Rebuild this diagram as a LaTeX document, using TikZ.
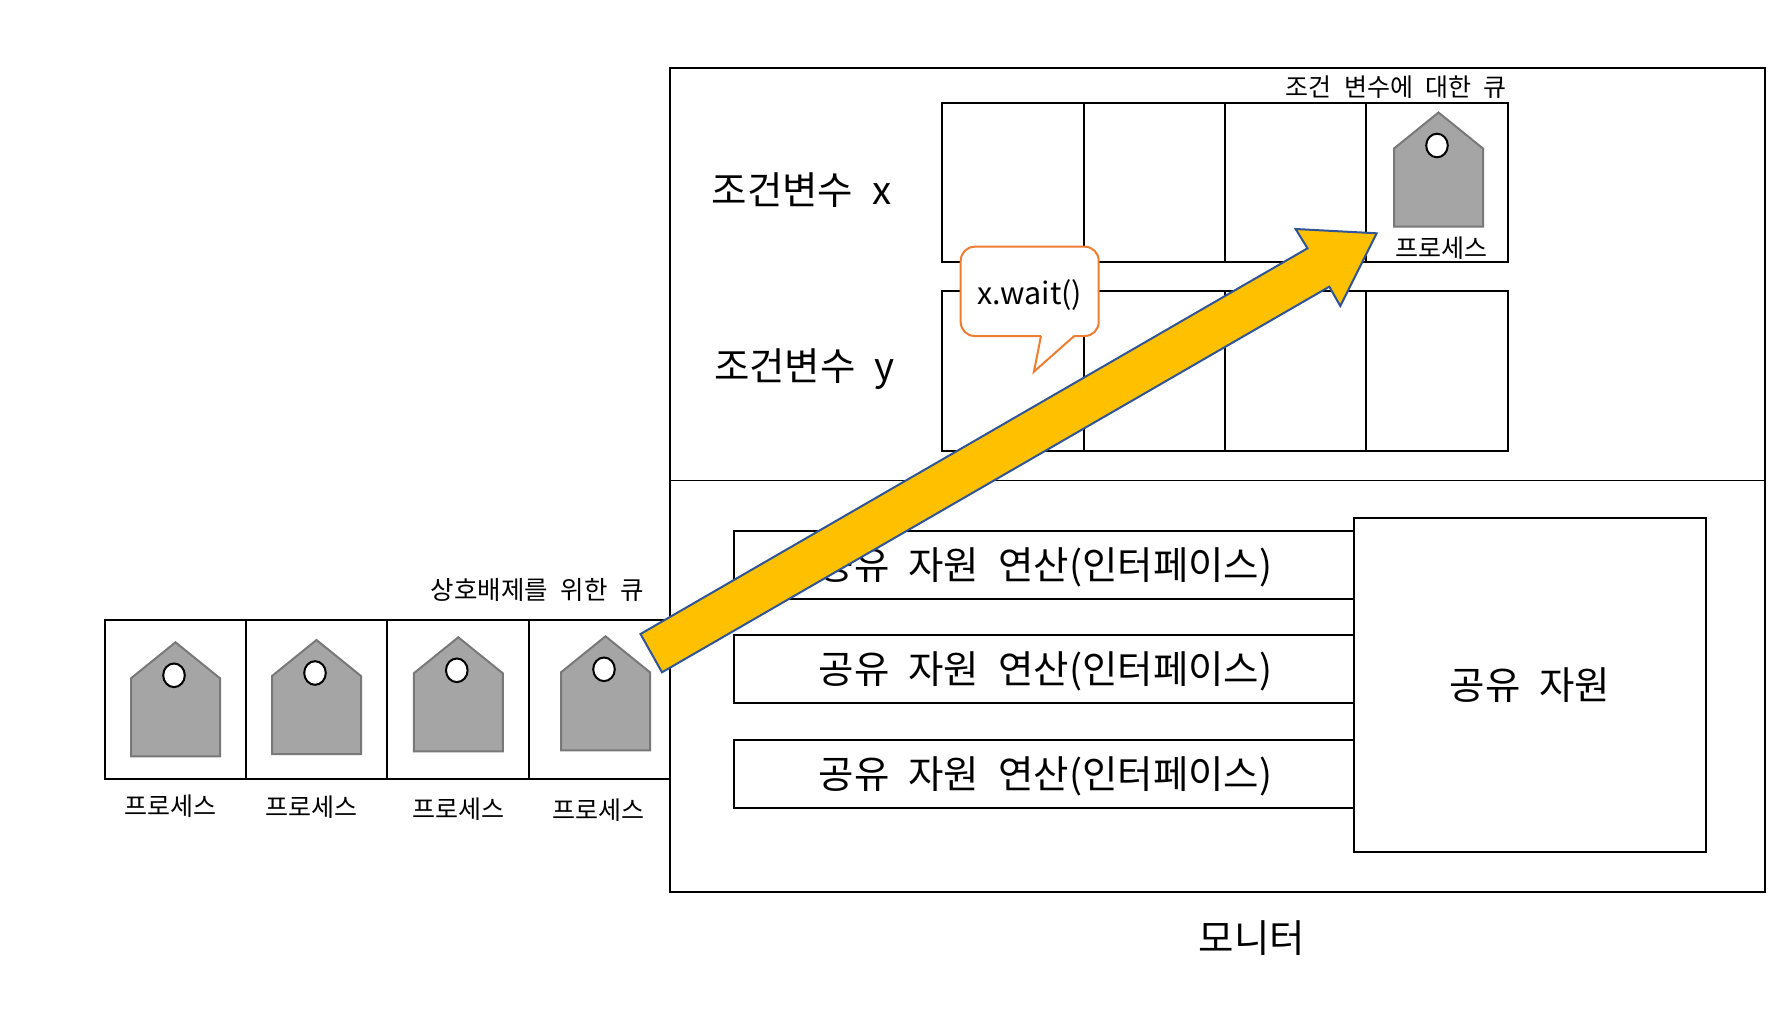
\documentclass[tikz,border=0pt]{standalone}
\usepackage{fontspec}
\setmainfont{Noto Sans CJK KR}[WordSpace=2.2]
\definecolor{tagfill}{HTML}{A5A5A5}
\definecolor{tagline}{HTML}{787878}
\definecolor{arrowfill}{HTML}{FFC000}
\definecolor{arrowline}{HTML}{2F5597}
\definecolor{calloutline}{HTML}{ED7D31}
\tikzset{
  smalltext/.style={inner sep=0pt, font=\fontsize{25}{25}\selectfont},
  queuetext/.style={inner sep=0pt, font=\fontsize{25.5}{25.5}\selectfont},
  bigtext/.style={inner sep=0pt, font=\fontsize{38.5}{38.5}\selectfont},
  boxline/.style={draw=black, line width=2pt}
}
% process tag: left x, top y
\newcommand{\proctag}[2]{
  \draw [fill=tagfill, draw=tagline, line width=2pt]
        (#1,#2+36) -- (#1+44.5,#2) -- (#1+89,#2+36) -- (#1+89,#2+114) -- (#1,#2+114) -- cycle;
  \draw [fill=white, line width=2pt] (#1+43,#2+33) ellipse (10.8 and 11.8);
}
\begin{document}
\begin{tikzpicture}[x=1pt, y=-1pt]
    \useasboundingbox (0,0) rectangle (1791,1009);
    % monitor
    \draw [boxline] (670,68) rectangle (1765.4,892);
    \draw [line width=1.2pt] (670,480.5) -- (1765.4,480.5);
    \node (monitor) [bigtext] at (1252,938) {모니터};
    % queue of the monitor entry
    \draw [boxline] (104.7,620) rectangle (670,779);
    \foreach \x in {246,387,529}
      \draw [boxline] (\x,620) -- (\x,779);
    \foreach \x/\y/\lx/\ly/\n in {131/642.3/170.2/806/a, 272/640/311.5/807/b,
                                  413.8/637.3/458/808.7/c, 561/636.3/598.4/809.7/d}{
      \proctag{\x}{\y}
      \node (proc\n) [smalltext] at (\lx,\ly) {프로세스};
    }
    \node (entry) [queuetext, anchor=east] at (644,590) {상호배제를 위한 큐};
    % condition variables
    \foreach \y/\h in {103/159,290.7/160.5}{
      \draw [boxline] (941.7,\y) rectangle (1508.4,\y+\h);
      \foreach \x in {1083.7,1224.9,1366}
        \draw [boxline] (\x,\y) -- (\x,\y+\h);
    }
    \node (condq) [smalltext, anchor=east] at (1507,87) {조건 변수에 대한 큐};
    \node (condx) [bigtext] at (801.5,190) {조건변수 x};
    \node (condy) [bigtext] at (804.5,369) {조건변수 y};
    \proctag{1394}{112.5}
    \node (proce) [smalltext] at (1441.5,247.7) {프로세스};
    % x.wait() bubble
    \draw [draw=calloutline, fill=white, line width=2pt, rounded corners=14pt]
          (1041,336) -- (960.7,336) -- (960.7,246.7) -- (1098.7,246.7) -- (1098.7,336) -- (1074.2,336);
    \draw [draw=calloutline, fill=white, line width=2pt, line join=miter]
          (1074.2,336) -- (1033.9,371.7) -- (1041,336);
    \node (wait) [inner sep=0pt, font=\fontsize{30.5}{30.5}\selectfont] at (1030,295) {x.wait()};
    % interface
    \foreach \y/\n in {531/a,634.9/b,740/c}{
      \draw [boxline] (734.4,\y) rectangle (1353.8,\y+67.8);
      \node (oper\n) [bigtext] at (1045.5,\y+36) {공유 자원 연산(인터페이스)};
    }
    \draw [boxline, fill=white] (1353.8,518) rectangle (1705.8,851.8);
    \node (shared) [bigtext] at (1530,685) {공유 자원};
    % move to the queue of x
    \draw [fill=arrowfill, draw=arrowline, line width=2pt, line join=miter]
          (640.5,634) -- (1307.5,248.3) -- (1295.6,229) -- (1376.7,233.3)
          -- (1340.3,306) -- (1329.3,286.7) -- (662,672.3) -- cycle;
\end{tikzpicture}
\end{document}
